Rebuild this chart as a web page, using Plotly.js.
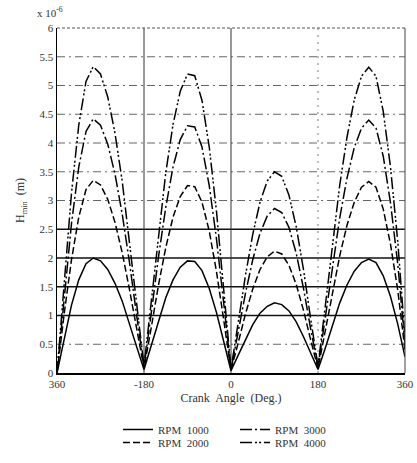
<!DOCTYPE html>
<html>
<head>
<meta charset="utf-8">
<script src="https://cdn.plot.ly/plotly-3.0.1.min.js"></script>
<style>html,body{margin:0;padding:0;background:#fff;}#chart{width:417px;height:463px;}</style>
</head>
<body>
<div id="chart"></div>
<script>
// Crank angle samples (deg)
const crankAngle = [-360,-345,-330,-315,-300,-285,-270,-255,-240,-225,-210,-195,
  -180,-165,-150,-135,-120,-105,-90,-75,-60,-45,-30,-15,
  0,15,30,45,60,75,90,105,120,135,150,165,
  180,195,210,225,240,255,270,285,300,315,330,345,360];

// H_min values in units of 1e-6 m
const rpm1000 = [0,0.62,1.18,1.62,1.90,2.00,1.95,1.80,1.56,1.25,0.87,0.45,
  0.06,0.47,0.92,1.31,1.62,1.84,1.95,1.94,1.78,1.47,1.05,0.55,
  0.04,0.31,0.59,0.84,1.04,1.16,1.22,1.19,1.08,0.89,0.63,0.33,
  0.06,0.43,0.84,1.22,1.53,1.77,1.92,1.98,1.92,1.69,1.33,0.85,0.28];
const rpm2000 = [0,1.04,1.97,2.71,3.19,3.35,3.27,3.02,2.62,2.09,1.45,0.75,
  0.08,0.79,1.53,2.18,2.71,3.07,3.26,3.24,2.97,2.47,1.76,0.92,
  0.05,0.53,1.03,1.46,1.80,2.02,2.12,2.07,1.87,1.54,1.09,0.57,
  0.08,0.73,1.42,2.04,2.57,2.97,3.23,3.33,3.23,2.85,2.24,1.44,0.40];
const rpm3000 = [0,1.37,2.60,3.58,4.20,4.42,4.31,3.98,3.46,2.76,1.92,0.99,
  0.10,1.04,2.02,2.88,3.58,4.06,4.30,4.28,3.93,3.26,2.33,1.21,
  0.06,0.72,1.39,1.97,2.43,2.73,2.86,2.79,2.53,2.08,1.47,0.76,
  0.10,0.96,1.87,2.70,3.39,3.92,4.26,4.40,4.26,3.77,2.96,1.90,0.50];
const rpm4000 = [0,1.65,3.13,4.31,5.07,5.33,5.20,4.80,4.17,3.33,2.31,1.19,
  0.12,1.26,2.44,3.48,4.32,4.90,5.20,5.17,4.74,3.93,2.81,1.46,
  0.07,0.88,1.70,2.41,2.97,3.34,3.50,3.42,3.09,2.54,1.80,0.93,
  0.12,1.16,2.27,3.27,4.10,4.75,5.16,5.32,5.16,4.55,3.58,2.29,0.60];

const seriesNames = ["RPM  1000","RPM  2000","RPM  3000","RPM  4000"];
const xTickVals = [-360,-180,0,180,360];
const xTickText = ["360","-180","0","180","360"];
const yTickVals = [0,0.5,1,1.5,2,2.5,3,3.5,4,4.5,5,5.5,6];
const yTickText = ["0","0.5","1","1.5","2","2.5","3","3.5","4","4.5","5","5.5","6"];
const solidGridY = [1,1.5,2,2.5];
const dashGridY = [0.5,3,3.5,4,4.5,5,5.5];
const solidGridX = [-180,0];
const dotGridX = [180];

const FONT = "Liberation Serif, Times New Roman, serif";
const lineStyles = [
  {dash:"solid", width:1.5},
  {dash:"7px,3px", width:1.5},
  {dash:"12px,3px,2px,3px", width:1.5},
  {dash:"12px,3px,2px,2px,2px,3px", width:1.5}
];
const legendIds = ["legend","legend3","legend2","legend4"];
const data = [rpm1000, rpm2000, rpm3000, rpm4000].map((ys,i)=>({
  x: crankAngle, y: ys, type:"scatter", mode:"lines", name: seriesNames[i],
  legend: legendIds[i],
  line: {color:"#000", width: lineStyles[i].width, dash: lineStyles[i].dash}
}));

const shapes = [];
solidGridY.forEach(v=>shapes.push({type:"line", xref:"paper", x0:0, x1:1, yref:"y", y0:v, y1:v, layer:"below", line:{color:"#111", width:1.4}}));
dashGridY.forEach(v=>shapes.push({type:"line", xref:"paper", x0:0, x1:1, yref:"y", y0:v, y1:v, layer:"below", line:{color:"#666", width:1, dash:"8px,4px,2px,4px"}}));
solidGridX.forEach(v=>shapes.push({type:"line", yref:"paper", y0:0, y1:1, xref:"x", x0:v, x1:v, layer:"below", line:{color:"#333", width:1}}));
dotGridX.forEach(v=>shapes.push({type:"line", yref:"paper", y0:0, y1:1, xref:"x", x0:v, x1:v, layer:"below", line:{color:"#777", width:1, dash:"2px,5px"}}));
// frame top (dotted) and right
shapes.push({type:"line", xref:"paper", x0:0, x1:1, yref:"paper", y0:1, y1:1, line:{color:"#555", width:1.2, dash:"3px,2px"}});
shapes.push({type:"line", xref:"paper", x0:1, x1:1, yref:"paper", y0:0, y1:1, line:{color:"#444", width:1}});

const legFont = {size:11, family:FONT, color:"#333"};
function leg(x, y){
  return {x:x, y:y, xref:"container", yref:"container", xanchor:"left", yanchor:"top",
    orientation:"h", bgcolor:"rgba(0,0,0,0)", font:legFont, tracegroupgap:0, itemwidth:30, borderwidth:0};
}

const layout = {
  width:417, height:463,
  margin:{l:57, r:12, t:28, b:90},
  paper_bgcolor:"#fff", plot_bgcolor:"#fff",
  font:{family:FONT, size:11, color:"#222"},
  showlegend:true,
  xaxis:{range:[-360,360], tickvals:xTickVals, ticktext:xTickText, showgrid:false, zeroline:false,
    showline:true, linecolor:"#000", linewidth:1.5, ticks:"", tickfont:{size:11, family:FONT, color:"#333"},
    title:{text:"Crank  Angle  (Deg.)", font:{size:12, family:FONT, color:"#333"}, standoff:5}},
  yaxis:{range:[0,6], tickvals:yTickVals, ticktext:yTickText, showgrid:false, zeroline:false,
    showline:true, linecolor:"#000", linewidth:1.5, ticks:"", tickfont:{size:11, family:FONT, color:"#333"},
    title:{text:"H<sub>min</sub>  (m)", font:{size:12, family:FONT, color:"#333"}, standoff:12}},
  shapes: shapes,
  annotations:[{xref:"paper", yref:"paper", x:-0.062, y:1.02, xanchor:"left", yanchor:"bottom",
    text:"x 10<sup>-6</sup>", showarrow:false, font:{size:11, family:FONT, color:"#333"}}],
  legend:  leg(0.283, 0.1037),
  legend2: leg(0.5635, 0.1037),
  legend3: leg(0.283, 0.0756),
  legend4: leg(0.5635, 0.0756)
};
Plotly.newPlot("chart", data, layout, {staticPlot:true, displayModeBar:false});
</script>
</body>
</html>
